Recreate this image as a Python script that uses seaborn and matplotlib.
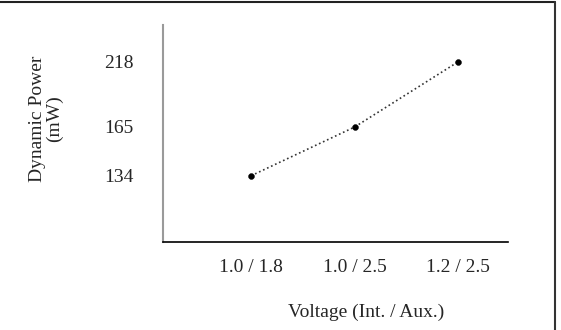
import matplotlib
matplotlib.use("Agg")
import matplotlib.pyplot as plt
import seaborn as sns
from matplotlib.lines import Line2D
from matplotlib.ticker import NullLocator, FixedLocator, FixedFormatter

# data
voltages = ["1.0 / 1.8", "1.0 / 2.5", "1.2 / 2.5"]
power_mw = [134, 165, 218]
ytick_vals = [134, 165, 218]
ytick_labels = ["134", "165", "218"]


def main():
    sns.set_style("white")
    plt.rcParams["font.family"] = ["Liberation Serif", "DejaVu Serif"]

    fig = plt.figure(figsize=(5.61, 3.30), dpi=100)
    ax = fig.add_axes([163 / 561, 1 - 242 / 330, 345 / 561, 217 / 330])

    # dotted connecting line + black dots
    sns.lineplot(x=voltages, y=power_mw, ax=ax, color="#333333",
                 linestyle=":", linewidth=1.2, sort=False)
    sns.scatterplot(x=voltages, y=power_mw, ax=ax, color="black",
                    s=18, edgecolor="black", zorder=3)

    ax.set_yscale("log")
    ax.set_ylim(101, 255)
    ax.set_xlim(-0.85, 2.48)
    ax.yaxis.set_major_locator(FixedLocator(ytick_vals))
    ax.yaxis.set_major_formatter(FixedFormatter(ytick_labels))
    ax.yaxis.set_minor_locator(NullLocator())

    for s in ["top", "right"]:
        ax.spines[s].set_visible(False)
    ax.spines["left"].set_color("#9a9a9a")
    ax.spines["left"].set_linewidth(1.5)
    ax.spines["bottom"].set_color("black")
    ax.spines["bottom"].set_linewidth(1.2)

    ax.tick_params(axis="y", length=0, pad=21, labelsize=14)
    ax.tick_params(axis="x", length=0, pad=12, labelsize=14)

    ax.set_xlabel("Voltage (Int. / Aux.)", fontsize=14)
    ax.xaxis.set_label_coords(0.588, -0.285)
    ax.set_ylabel("Dynamic Power\n(mW)", fontsize=14, linespacing=0.95)
    ax.yaxis.set_label_coords(-0.29, 0.567)

    # frame lines at top and right edge of the image
    fig.add_artist(Line2D([0, 555 / 561], [1 - 1.5 / 330] * 2,
                          color="#222222", linewidth=1.5))
    fig.add_artist(Line2D([555 / 561] * 2, [0, 1 - 1.5 / 330],
                          color="#333333", linewidth=1.5))

    fig.savefig("out.png", dpi=100)
    plt.close(fig)


if __name__ == "__main__":
    main()
